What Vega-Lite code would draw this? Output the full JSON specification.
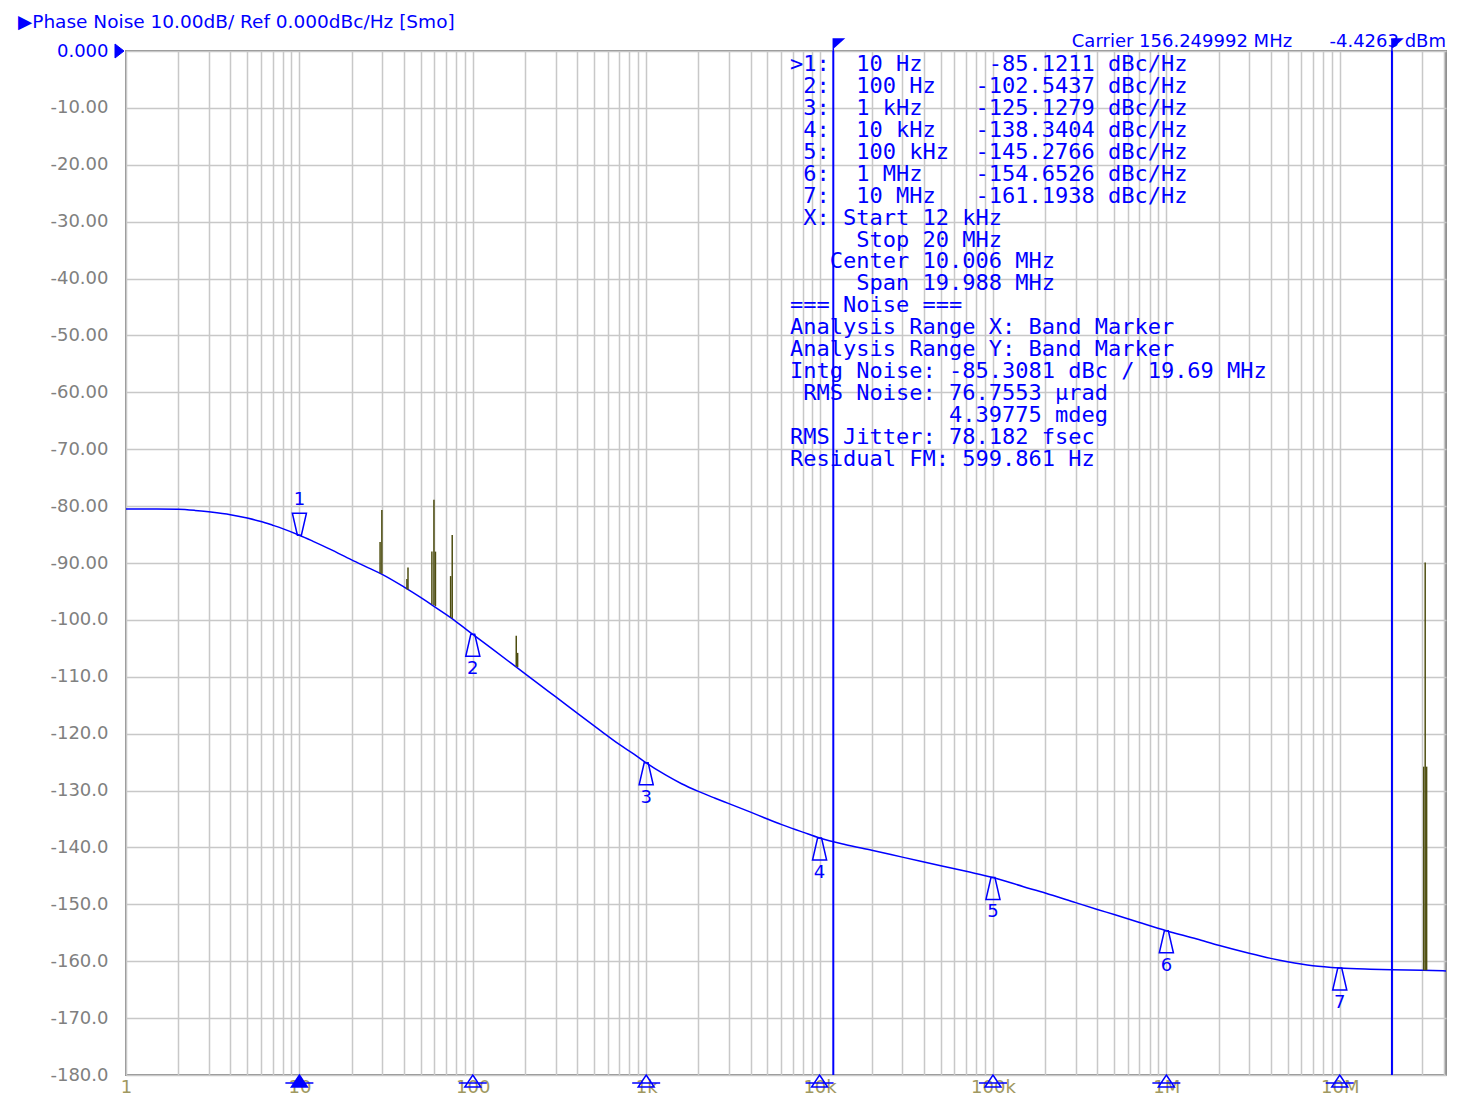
{
  "$schema": "https://vega.github.io/schema/vega-lite/v6.json",
  "width": 1320,
  "height": 1024,
  "autosize": {"type": "none"},
  "padding": {"left": 126, "top": 51, "right": 27, "bottom": 24},
  "background": "#ffffff",
  "config": {
    "view": {"stroke": "#909090", "strokeWidth": 2},
    "axis": {"grid": true, "gridColor": "#c8c8c8", "gridWidth": 1.5, "ticks": false, "domain": false, "labelFont": "DejaVu Sans", "labelFontSize": 18, "labelOverlap": false, "labelBound": false, "labelFlush": false}
  },
  "datasets": {
    "trace": [
      {"f": 1, "db": -80.5}, {"f": 1.5, "db": -80.5}, {"f": 2, "db": -80.55}, {"f": 2.5, "db": -80.75}, {"f": 3, "db": -81.0}, {"f": 4, "db": -81.5}, {"f": 5, "db": -82.1}, {"f": 6, "db": -82.7}, {"f": 7, "db": -83.35}, {"f": 8, "db": -83.95},
      {"f": 10, "db": -85.12}, {"f": 12, "db": -86.19}, {"f": 15, "db": -87.55}, {"f": 20, "db": -89.45}, {"f": 25, "db": -90.85}, {"f": 30, "db": -92.0}, {"f": 40, "db": -94.2}, {"f": 50, "db": -96.05}, {"f": 60, "db": -97.65}, {"f": 70, "db": -99.05}, {"f": 80, "db": -100.3},
      {"f": 100, "db": -102.54}, {"f": 130, "db": -105.14}, {"f": 180, "db": -108.4}, {"f": 250, "db": -111.7}, {"f": 300, "db": -113.5}, {"f": 400, "db": -116.4}, {"f": 550, "db": -119.55}, {"f": 700, "db": -121.9}, {"f": 850, "db": -123.58},
      {"f": 1000, "db": -125.13}, {"f": 1300, "db": -127.3}, {"f": 1600, "db": -128.8}, {"f": 2000, "db": -130.15}, {"f": 2500, "db": -131.35}, {"f": 3000, "db": -132.3}, {"f": 4000, "db": -133.8}, {"f": 5000, "db": -135.0}, {"f": 6000, "db": -135.95}, {"f": 8000, "db": -137.3},
      {"f": 10000, "db": -138.34}, {"f": 14000, "db": -139.5}, {"f": 20000, "db": -140.5}, {"f": 30000, "db": -141.7}, {"f": 50000, "db": -143.2}, {"f": 70000, "db": -144.2},
      {"f": 100000, "db": -145.28}, {"f": 150000, "db": -146.9}, {"f": 200000, "db": -148.0}, {"f": 300000, "db": -149.7}, {"f": 400000, "db": -150.9}, {"f": 500000, "db": -151.8}, {"f": 700000, "db": -153.2},
      {"f": 1000000, "db": -154.65}, {"f": 1500000, "db": -156.1}, {"f": 2000000, "db": -157.2}, {"f": 3000000, "db": -158.6}, {"f": 4000000, "db": -159.5}, {"f": 5000000, "db": -160.1}, {"f": 7000000, "db": -160.8},
      {"f": 10000000, "db": -161.19}, {"f": 15000000, "db": -161.4}, {"f": 20000000, "db": -161.5}, {"f": 30000000, "db": -161.6}, {"f": 41000000, "db": -161.7}
    ],
    "spurs": [
      {"f": 29.2, "base": -91.8, "top": -86.3}, {"f": 29.9, "base": -91.9, "top": -80.7},
      {"f": 41.7, "base": -94.6, "top": -92.8}, {"f": 42.3, "base": -94.7, "top": -90.8},
      {"f": 58.1, "base": -97.3, "top": -88.0}, {"f": 59.7, "base": -97.4, "top": -78.9}, {"f": 60.9, "base": -97.6, "top": -88.0},
      {"f": 74.5, "base": -99.5, "top": -92.3}, {"f": 76.1, "base": -99.7, "top": -85.1},
      {"f": 178.1, "base": -108.2, "top": -102.8}, {"f": 181.4, "base": -108.3, "top": -105.8},
      {"f": 30500000, "base": -161.6, "top": -125.8}, {"f": 31100000, "base": -161.6, "top": -89.9}, {"f": 31700000, "base": -161.6, "top": -125.8}
    ],
    "markers": [
      {"n": 1, "f": 10, "db": -85.1211}, {"n": 2, "f": 100, "db": -102.5437}, {"n": 3, "f": 1000, "db": -125.1279}, {"n": 4, "f": 10000, "db": -138.3404},
      {"n": 5, "f": 100000, "db": -145.2766}, {"n": 6, "f": 1000000, "db": -154.6526}, {"n": 7, "f": 10000000, "db": -161.1938}
    ],
    "band": [{"f": 12000}, {"f": 20000000}]
  },
  "layer": [
    {
      "data": {"name": "trace"},
      "mark": {"type": "line", "color": "#0000ff", "strokeWidth": 1.5, "interpolate": "monotone"},
      "encoding": {
        "x": {"field": "f", "type": "quantitative", "title": null, "scale": {"type": "log", "domain": [1, 41000000], "nice": false},
          "axis": {"values": [1,2,3,4,5,6,7,8,9,10,20,30,40,50,60,70,80,90,100,200,300,400,500,600,700,800,900,1000,2000,3000,4000,5000,6000,7000,8000,9000,10000,20000,30000,40000,50000,60000,70000,80000,90000,100000,200000,300000,400000,500000,600000,700000,800000,900000,1000000,2000000,3000000,4000000,5000000,6000000,7000000,8000000,9000000,10000000,20000000,30000000,40000000],
            "labelExpr": "datum.value==1?'1':datum.value==10?'10':datum.value==100?'100':datum.value==1000?'1k':datum.value==10000?'10k':datum.value==100000?'100k':datum.value==1000000?'1M':datum.value==10000000?'10M':''",
            "labelColor": "#a09860", "labelPadding": 3}},
        "y": {"field": "db", "type": "quantitative", "title": null, "scale": {"domain": [-180, 0], "nice": false, "zero": false},
          "axis": {"values": [-180,-170,-160,-150,-140,-130,-120,-110,-100,-90,-80,-70,-60,-50,-40,-30,-20,-10,0],
            "labelExpr": "datum.value==0?'0.000':(abs(datum.value)>=100?'-'+format(abs(datum.value),'.1f'):'-'+format(abs(datum.value),'.2f'))",
            "labelColor": {"condition": {"test": "datum.value === 0", "value": "#0000ff"}, "value": "#808080"},
            "labelPadding": 18}}
      }
    },
    {
      "data": {"name": "spurs"},
      "mark": {"type": "rule", "color": "#4d4d0f", "strokeWidth": 1.5},
      "encoding": {
        "x": {"field": "f", "type": "quantitative", "title": null},
        "y": {"field": "base", "type": "quantitative", "title": null},
        "y2": {"field": "top"}
      }
    },
    {
      "data": {"name": "band"},
      "mark": {"type": "rule", "color": "#0000ff", "strokeWidth": 2},
      "encoding": {"x": {"field": "f", "type": "quantitative", "title": null}}
    },
    {
      "data": {"name": "band"},
      "mark": {"type": "point", "shape": "M0,0 L0,-1.2 L1,-1.2 L0,-0.3 Z", "size": 400, "filled": true, "fill": "#0000ff", "stroke": "#0000ff", "strokeWidth": 1.5, "opacity": 1},
      "encoding": {"x": {"field": "f", "type": "quantitative", "title": null}, "y": {"datum": 0}}
    },
    {
      "data": {"name": "markers"},
      "transform": [{"filter": "datum.n > 1"}],
      "mark": {"type": "point", "shape": "M-0.18,0 L0.18,0 L0.64,2 L-0.64,2 Z", "size": 484, "filled": false, "stroke": "#0000ff", "strokeWidth": 1.5, "opacity": 1},
      "encoding": {"x": {"field": "f", "type": "quantitative", "title": null}, "y": {"field": "db", "type": "quantitative", "title": null}}
    },
    {
      "data": {"name": "markers"},
      "transform": [{"filter": "datum.n == 1"}],
      "mark": {"type": "point", "shape": "M-0.64,-2 L0.64,-2 L0.18,0 L-0.18,0 Z", "size": 484, "filled": false, "stroke": "#0000ff", "strokeWidth": 1.5, "opacity": 1},
      "encoding": {"x": {"field": "f", "type": "quantitative", "title": null}, "y": {"field": "db", "type": "quantitative", "title": null}}
    },
    {
      "data": {"name": "markers"},
      "transform": [{"filter": "datum.n > 1"}],
      "mark": {"type": "text", "font": "DejaVu Sans", "fontSize": 18, "color": "#0000ff", "baseline": "middle", "dy": 35},
      "encoding": {"x": {"field": "f", "type": "quantitative", "title": null}, "y": {"field": "db", "type": "quantitative", "title": null}, "text": {"field": "n"}}
    },
    {
      "data": {"name": "markers"},
      "transform": [{"filter": "datum.n == 1"}],
      "mark": {"type": "text", "font": "DejaVu Sans", "fontSize": 18, "color": "#0000ff", "baseline": "middle", "dy": -35},
      "encoding": {"x": {"field": "f", "type": "quantitative", "title": null}, "y": {"field": "db", "type": "quantitative", "title": null}, "text": {"field": "n"}}
    },
    {
      "data": {"name": "markers"},
      "mark": {"type": "point", "shape": "M0,0 L0.8,1.2 L-0.8,1.2 Z M-1.4,0.8 L1.4,0.8", "size": 400, "stroke": "#0000ff", "strokeWidth": 1.5, "opacity": 1},
      "encoding": {
        "x": {"field": "f", "type": "quantitative", "title": null},
        "y": {"datum": -180},
        "fill": {"condition": {"test": "datum.n == 1", "value": "#0000ff"}, "value": "transparent"}
      }
    },
    {
      "data": {"values": [{"label": "pointer"}]},
      "mark": {"type": "point", "shape": "M-1.1,-0.7 L-0.2,0 L-1.1,0.7 Z", "size": 400, "filled": true, "fill": "#0000ff", "stroke": "#0000ff", "strokeWidth": 1, "opacity": 1},
      "encoding": {"x": {"datum": 1}, "y": {"datum": 0}}
    },
    {
      "data": {"values": [{"label": "▶Phase Noise 10.00dB/ Ref 0.000dBc/Hz [Smo]"}]},
      "mark": {"type": "text", "font": "DejaVu Sans", "fontSize": 18.5, "color": "#0000ff", "align": "left", "baseline": "middle", "dx": -108, "dy": -29},
      "encoding": {"x": {"datum": 1}, "y": {"datum": 0}, "text": {"field": "label"}}
    },
    {
      "data": {"values": [{"label": "Carrier 156.249992 MHz"}]},
      "mark": {"type": "text", "font": "DejaVu Sans", "fontSize": 18, "color": "#0000ff", "align": "left", "baseline": "middle", "dy": -9},
      "encoding": {"x": {"datum": 284900}, "y": {"datum": 0}, "text": {"field": "label"}}
    },
    {
      "data": {"values": [{"label": "-4.4263 dBm"}]},
      "mark": {"type": "text", "font": "DejaVu Sans", "fontSize": 18, "color": "#0000ff", "align": "right", "baseline": "middle", "dy": -9},
      "encoding": {"x": {"datum": 41000000}, "y": {"datum": 0}, "text": {"field": "label"}}
    },
    {
      "data": {"values": [{"label": ">1:\u00a0\u00a010\u00a0Hz\u00a0\u00a0\u00a0\u00a0\u00a0-85.1211\u00a0dBc/Hz\n\u200b\u00a02:\u00a0\u00a0100\u00a0Hz\u00a0\u00a0\u00a0-102.5437\u00a0dBc/Hz\n\u200b\u00a03:\u00a0\u00a01\u00a0kHz\u00a0\u00a0\u00a0\u00a0-125.1279\u00a0dBc/Hz\n\u200b\u00a04:\u00a0\u00a010\u00a0kHz\u00a0\u00a0\u00a0-138.3404\u00a0dBc/Hz\n\u200b\u00a05:\u00a0\u00a0100\u00a0kHz\u00a0\u00a0-145.2766\u00a0dBc/Hz\n\u200b\u00a06:\u00a0\u00a01\u00a0MHz\u00a0\u00a0\u00a0\u00a0-154.6526\u00a0dBc/Hz\n\u200b\u00a07:\u00a0\u00a010\u00a0MHz\u00a0\u00a0\u00a0-161.1938\u00a0dBc/Hz\n\u200b\u00a0X:\u00a0Start\u00a012\u00a0kHz\n\u200b\u00a0\u00a0\u00a0\u00a0\u00a0Stop\u00a020\u00a0MHz\n\u200b\u00a0\u00a0\u00a0Center\u00a010.006\u00a0MHz\n\u200b\u00a0\u00a0\u00a0\u00a0\u00a0Span\u00a019.988\u00a0MHz\n===\u00a0Noise\u00a0===\nAnalysis\u00a0Range\u00a0X:\u00a0Band\u00a0Marker\nAnalysis\u00a0Range\u00a0Y:\u00a0Band\u00a0Marker\nIntg\u00a0Noise:\u00a0-85.3081\u00a0dBc\u00a0/\u00a019.69\u00a0MHz\n\u200b\u00a0RMS\u00a0Noise:\u00a076.7553\u00a0µrad\n\u200b\u00a0\u00a0\u00a0\u00a0\u00a0\u00a0\u00a0\u00a0\u00a0\u00a0\u00a0\u00a04.39775\u00a0mdeg\nRMS\u00a0Jitter:\u00a078.182\u00a0fsec\nResidual\u00a0FM:\u00a0599.861\u00a0Hz"}]},
      "mark": {"type": "text", "font": "DejaVu Sans Mono", "fontSize": 22, "color": "#0000ff", "align": "left", "baseline": "top", "lineBreak": "\n", "lineHeight": 21.94, "dy": 3},
      "encoding": {"x": {"datum": 6754}, "y": {"datum": 0}, "text": {"field": "label"}}
    }
  ]
}
